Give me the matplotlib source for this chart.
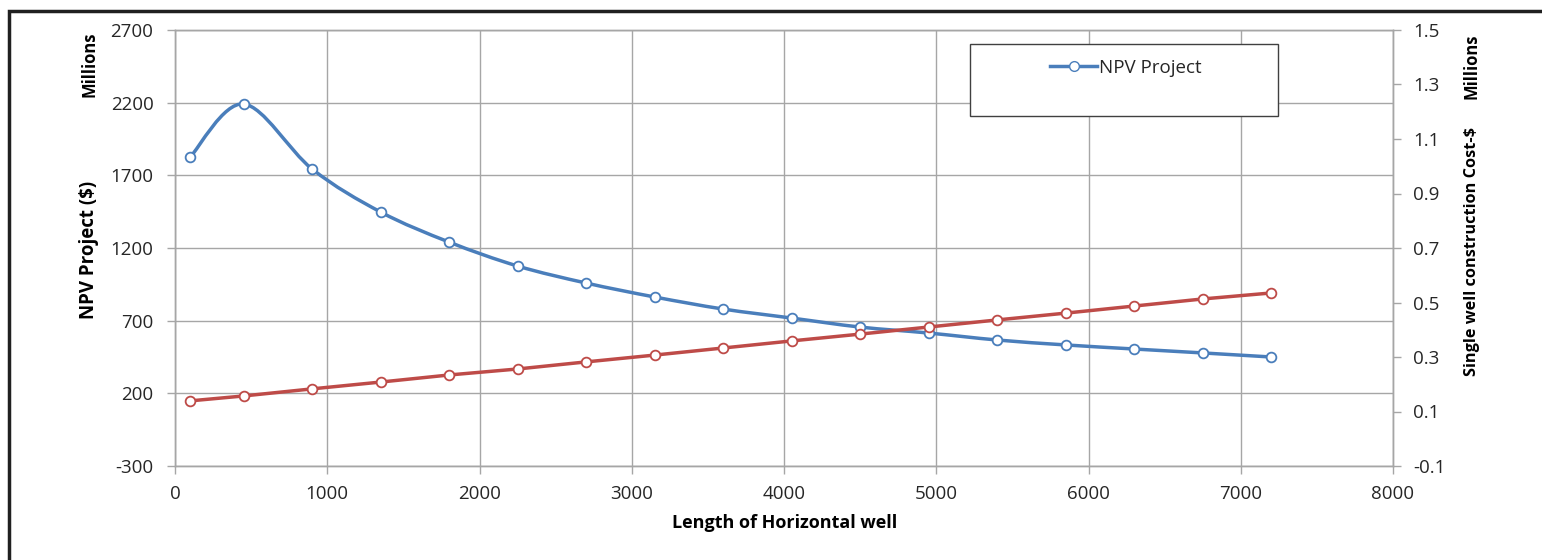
import matplotlib
matplotlib.use("Agg")
import matplotlib.pyplot as plt
from matplotlib.path import Path
from matplotlib.patches import PathPatch, Rectangle
from matplotlib.lines import Line2D
import numpy as np

# ---- data ----
length_m = [100, 450, 900, 1350, 1800, 2250, 2700, 3150, 3600, 4050, 4500,
            4950, 5400, 5850, 6300, 6750, 7200]
npv_project = [1826, 2191, 1744, 1448, 1241, 1076, 959, 863, 780, 718, 656,
               615, 567, 533, 505, 478, 450]
well_cost = [0.139, 0.157, 0.183, 0.208, 0.234, 0.256, 0.282, 0.307, 0.333,
             0.359, 0.384, 0.410, 0.436, 0.461, 0.487, 0.513, 0.535]
x_ticks = [0, 1000, 2000, 3000, 4000, 5000, 6000, 7000, 8000]
left_ticks = [-300, 200, 700, 1200, 1700, 2200, 2700]
right_ticks = [-0.1, 0.1, 0.3, 0.5, 0.7, 0.9, 1.1, 1.3, 1.5]

BLUE = "#4A7EBB"
RED = "#BE4B48"
GRID = "#A6A6A6"
TXT = "#262626"
FONT = "Open Sans"
FS = 13.5

plt.rcParams['font.family'] = [FONT, 'DejaVu Sans']
plt.rcParams['axes.unicode_minus'] = False

W, H = 1542, 560
fig = plt.figure(figsize=(W / 100, H / 100), dpi=100)


def fx(px):
    return px / W


def fy(py):
    return 1 - py / H


ax = fig.add_axes([fx(175), fy(466), fx(1393) - fx(175), fy(30) - fy(466)])
ax2 = ax.twinx()

ax.set_xlim(0, 8000)
ax.set_ylim(-300, 2700)
ax2.set_ylim(-0.1, 1.5)
ax.set_xticks(x_ticks)
ax.set_yticks(left_ticks)
ax2.set_yticks(right_ticks)
ax2.set_yticklabels([f"{v:.1f}" for v in right_ticks])

ax.grid(True, color=GRID, linewidth=1.0)
ax.set_axisbelow(True)
for a in (ax, ax2):
    for s in a.spines.values():
        s.set_color(GRID)
        s.set_linewidth(1.0)
ax.tick_params(axis='y', colors=GRID, labelcolor=TXT, labelsize=FS,
               length=5.5, width=1, pad=10)
ax.tick_params(axis='x', colors=GRID, labelcolor=TXT, labelsize=FS,
               length=5.5, width=1, pad=8)
ax2.tick_params(axis='y', colors=GRID, labelcolor=TXT, labelsize=FS,
                length=5.5, width=1, pad=9)

# smooth (Catmull-Rom as cubic Bezier) curve for NPV
P = np.column_stack([length_m, npv_project]).astype(float)
Pext = np.vstack([P[0], P, P[-1]])
verts = [tuple(P[0])]
codes = [Path.MOVETO]
for i in range(len(P) - 1):
    p0, p1, p2, p3 = Pext[i], Pext[i + 1], Pext[i + 2], Pext[i + 3]
    c1 = p1 + (p2 - p0) / 6.0
    c2 = p2 - (p3 - p1) / 6.0
    verts += [tuple(c1), tuple(c2), tuple(p2)]
    codes += [Path.CURVE4] * 3
ax.add_patch(PathPatch(Path(verts, codes), facecolor='none', edgecolor=BLUE,
                       linewidth=2.5, capstyle='round', joinstyle='round', zorder=3))
ax.plot(length_m, npv_project, linestyle='none', marker='o', markersize=7,
        markerfacecolor='white', markeredgecolor=BLUE, markeredgewidth=1.3, zorder=4)

ax2.plot(length_m, well_cost, color=RED, linewidth=2.5, marker='o', markersize=7,
         markerfacecolor='white', markeredgecolor=RED, markeredgewidth=1.3, zorder=4)

# legend box
fig.patches.append(Rectangle((fx(970), fy(116)), fx(1278) - fx(970), fy(44) - fy(116),
                             transform=fig.transFigure, facecolor='white',
                             edgecolor='#404040', linewidth=1.0, zorder=5))
handle = Line2D([], [], color=BLUE, linewidth=2.5, marker='o', markersize=7,
                markerfacecolor='white', markeredgecolor=BLUE, markeredgewidth=1.0)
leg = fig.legend([handle], ["NPV Project"], loc='center', frameon=False,
                 bbox_to_anchor=(fx(1126), fy(68)), fontsize=FS, handlelength=2.5,
                 handletextpad=0.1, labelcolor=TXT)
leg.set_zorder(6)

# axis labels
fig.text(fx(785), fy(523), "Length of Horizontal well", ha='center', va='center',
         fontsize=13, fontweight='bold', color='black')
fig.text(fx(89), fy(64), "Millions", rotation=90, ha='center', va='center',
         fontsize=12, fontweight='bold', color='black')
fig.text(fx(89), fy(250), "NPV Project ($)", rotation=90, ha='center', va='center',
         fontsize=13.5, fontweight='bold', color='black')
fig.text(fx(1472), fy(66), "Millions", rotation=90, ha='center', va='center',
         fontsize=12, fontweight='bold', color='black')
fig.text(fx(1472), fy(251), "Single well construction Cost-$", rotation=90,
         ha='center', va='center', fontsize=11.7, fontweight='bold', color='black')

# outer border
fig.patches.append(Rectangle((fx(9), fy(H + 20)), fx(W + 20) - fx(9), fy(11) - fy(H + 20),
                             transform=fig.transFigure, facecolor='none',
                             edgecolor='#202020', linewidth=2.5, zorder=10))

fig.savefig("out.png", dpi=100)
